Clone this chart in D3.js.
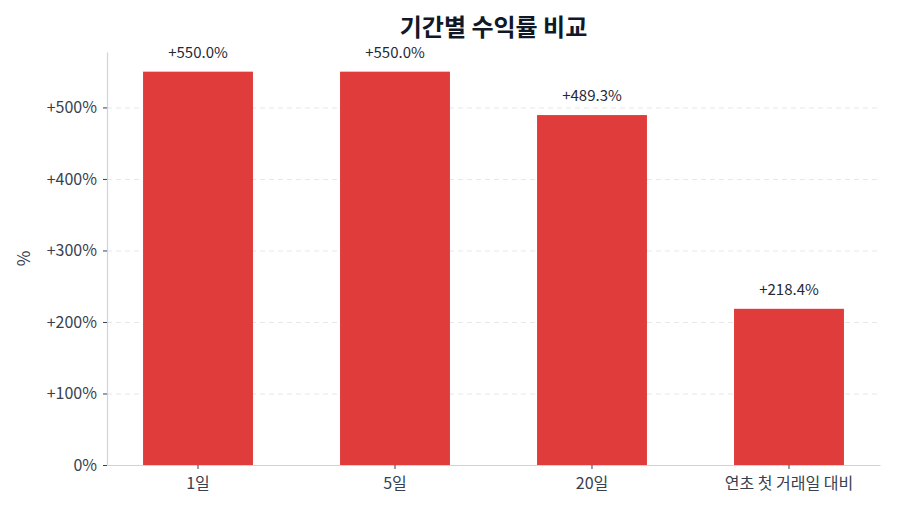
<!DOCTYPE html>
<html>
<head>
<meta charset="utf-8">
<script src="https://cdn.jsdelivr.net/npm/d3@7"></script>
<style>
  body { margin: 0; background: #fff; font-family: "Noto Sans CJK KR", "Noto Sans", sans-serif; }
  .grid line { stroke: #e5e7eb; stroke-dasharray: 5,4; }
  .grid .domain { display: none; }
</style>
</head>
<body>
<svg id="chart"></svg>
<script>
// Data
const periods = ["1일", "5일", "20일", "연초 첫 거래일 대비"];
const returns = [550.0, 550.0, 489.3, 218.4];
const yTicks = [0, 100, 200, 300, 400, 500];

// Set up margins and dimensions
const margin = { top: 52, right: 20, bottom: 49, left: 107 };
const width = 900 - margin.left - margin.right;
const height = 514 - margin.top - margin.bottom;

const svg = d3.select("#chart")
  .attr("width", width + margin.left + margin.right)
  .attr("height", height + margin.top + margin.bottom)
  .append("g")
  .attr("transform", "translate(" + margin.left + "," + margin.top + ")");

// Scales
const xScale = d3.scaleBand()
  .domain(periods)
  .range([0, width])
  .paddingInner(0.442)
  .paddingOuter(0.183);

const yScale = d3.scaleLinear()
  .domain([0, d3.max(returns) * 1.05])
  .range([height, 0]);

// Grid lines
svg.append("g")
  .attr("class", "grid")
  .call(d3.axisLeft(yScale).tickValues(yTicks.filter(d => d > 0)).tickSize(-width).tickFormat(""));

// Bars
svg.selectAll(".bar")
  .data(periods)
  .enter().append("rect")
  .attr("class", "bar")
  .attr("x", d => xScale(d))
  .attr("y", (d, i) => yScale(returns[i]))
  .attr("width", xScale.bandwidth())
  .attr("height", (d, i) => height - yScale(returns[i]))
  .attr("fill", "#e03c3c");

// Value labels
svg.selectAll(".label")
  .data(periods)
  .enter().append("text")
  .attr("class", "label")
  .attr("x", d => xScale(d) + xScale.bandwidth() / 2)
  .attr("y", (d, i) => yScale(returns[i]) - 14)
  .attr("text-anchor", "middle")
  .attr("font-size", 15)
  .attr("fill", "#1f2937")
  .text((d, i) => "+" + returns[i].toFixed(1) + "%");

// X axis
const xAxis = svg.append("g")
  .attr("transform", "translate(0," + height + ")")
  .call(d3.axisBottom(xScale).tickSize(4).tickSizeOuter(0));
xAxis.select(".domain").attr("stroke", "#cbd5e1").attr("stroke-width", 1.2);
xAxis.selectAll(".tick line").attr("stroke", "#374151");
xAxis.selectAll(".tick text")
  .attr("font-size", 16)
  .attr("font-family", "Noto Sans CJK KR")
  .attr("fill", "#374151")
  .attr("dy", "1.05em");

// Y axis
const yAxis = svg.append("g")
  .call(d3.axisLeft(yScale).tickValues(yTicks).tickSize(4).tickSizeOuter(0)
    .tickFormat(d => d === 0 ? "0%" : "+" + d + "%"));
yAxis.select(".domain").attr("stroke", "#cbd5e1").attr("stroke-width", 1.2);
yAxis.selectAll(".tick line").attr("stroke", "#374151");
yAxis.selectAll(".tick text")
  .attr("font-size", 16)
  .attr("font-family", "Noto Sans CJK KR")
  .attr("fill", "#374151")
  .attr("x", -10);

// Y axis title
svg.append("text")
  .attr("transform", "rotate(-90)")
  .attr("x", -height / 2)
  .attr("y", -77)
  .attr("text-anchor", "middle")
  .attr("font-size", 17)
  .attr("fill", "#374151")
  .text("%");

// Chart title
svg.append("text")
  .attr("x", width / 2)
  .attr("y", -16)
  .attr("text-anchor", "middle")
  .attr("font-size", 24)
  .attr("font-weight", "bold")
  .attr("fill", "#111827")
  .text("기간별 수익률 비교");
</script>
</body>
</html>
